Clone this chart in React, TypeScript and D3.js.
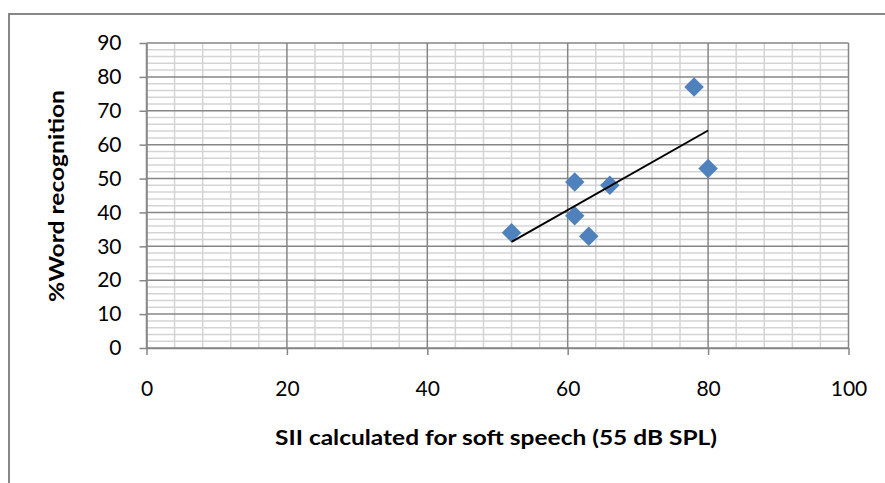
import React, { useRef, useEffect } from 'react';
import * as d3 from 'd3';

// SII (x) vs %Word recognition (y)
const siiValues = [52, 61, 61, 63, 66, 78, 80];
const wordRecognition = [34, 49, 39, 33, 48, 77, 53];
const xTicks = [0, 20, 40, 60, 80, 100];
const yTicks = [0, 10, 20, 30, 40, 50, 60, 70, 80, 90];

const xTitle = 'SII calculated for soft speech (55 dB SPL)';
const yTitle = '%Word recognition';

const W = 885;
const H = 483;
const FONT = 'Lato, "Open Sans", sans-serif';

const App: React.FC = () => {
  const svgRef = useRef<SVGSVGElement | null>(null);

  useEffect(() => {
    if (!svgRef.current) return;
    const svg = d3.select(svgRef.current);
    svg.selectAll('*').remove();

    const x = d3.scaleLinear().domain([0, 100]).range([146.5, 848.5]);
    const y = d3.scaleLinear().domain([0, 90]).range([348, 43]);

    // outer chart border
    svg.append('rect')
      .attr('x', 9).attr('y', 14)
      .attr('width', W).attr('height', H)
      .attr('fill', 'none')
      .attr('stroke', '#878787')
      .attr('stroke-width', 2);

    const grid = svg.append('g');

    // minor grid
    const minorX = d3.range(0, 101, 4).filter((v) => v % 20 !== 0);
    const minorY = d3.range(0, 91, 2).filter((v) => v % 10 !== 0);
    grid.selectAll('line.mx').data(minorX).enter().append('line')
      .attr('x1', (d) => x(d)).attr('x2', (d) => x(d))
      .attr('y1', y(0)).attr('y2', y(90))
      .attr('stroke', '#d4d4d4').attr('stroke-width', 1.5);
    grid.selectAll('line.my').data(minorY).enter().append('line')
      .attr('x1', x(0)).attr('x2', x(100))
      .attr('y1', (d) => y(d)).attr('y2', (d) => y(d))
      .attr('stroke', '#d4d4d4').attr('stroke-width', 1.5);

    // major grid
    grid.selectAll('line.Mx').data(xTicks).enter().append('line')
      .attr('x1', (d) => x(d)).attr('x2', (d) => x(d))
      .attr('y1', y(0)).attr('y2', y(90))
      .attr('stroke', '#868686').attr('stroke-width', 1.5);
    grid.selectAll('line.My').data(yTicks).enter().append('line')
      .attr('x1', x(0)).attr('x2', x(100))
      .attr('y1', (d) => y(d)).attr('y2', (d) => y(d))
      .attr('stroke', '#868686').attr('stroke-width', 1.5);

    // axes
    const xAxis = svg.append('g').attr('transform', `translate(0,${y(0)})`)
      .call(d3.axisBottom(x).tickValues(xTicks).tickSize(7).tickPadding(26).tickSizeOuter(0));
    const yAxis = svg.append('g').attr('transform', `translate(${x(0)},0)`)
      .call(d3.axisLeft(y).tickValues(yTicks).tickSize(7).tickPadding(18).tickSizeOuter(0));
    [xAxis, yAxis].forEach((a) => {
      a.select('.domain').attr('stroke', '#868686').attr('stroke-width', 1.5);
      a.selectAll('.tick line').attr('stroke', '#868686').attr('stroke-width', 1.5);
      a.selectAll('.tick text')
        .attr('fill', '#000')
        .style('font-family', FONT)
        .style('font-size', '21px');
    });

    // trendline (least squares)
    const mx = d3.mean(siiValues) as number;
    const my = d3.mean(wordRecognition) as number;
    const sxy = d3.sum(siiValues, (v, i) => (v - mx) * (wordRecognition[i] - my));
    const sxx = d3.sum(siiValues, (v) => (v - mx) * (v - mx));
    const slope = sxy / sxx;
    const icpt = my - slope * mx;
    const [x0, x1] = d3.extent(siiValues) as [number, number];

    // points
    const diamond = d3.symbol().type(d3.symbolSquare).size(190);
    svg.append('g').selectAll('path').data(siiValues).enter().append('path')
      .attr('d', diamond)
      .attr('transform', (d, i) => `translate(${x(d)},${y(wordRecognition[i])}) rotate(45)`)
      .attr('fill', '#4f81bd');

    svg.append('line')
      .attr('x1', x(x0)).attr('y1', y(slope * x0 + icpt))
      .attr('x2', x(x1)).attr('y2', y(slope * x1 + icpt))
      .attr('stroke', '#000').attr('stroke-width', 2);

    // titles
    svg.append('text')
      .attr('x', 496).attr('y', 445)
      .attr('text-anchor', 'middle')
      .attr('textLength', 442)
      .attr('lengthAdjust', 'spacingAndGlyphs')
      .style('font-family', FONT)
      .style('font-size', '21px')
      .style('font-weight', 'bold')
      .text(xTitle);

    svg.append('text')
      .attr('transform', `translate(64,196) rotate(-90)`)
      .attr('text-anchor', 'middle')
      .attr('textLength', 212)
      .attr('lengthAdjust', 'spacingAndGlyphs')
      .style('font-family', FONT)
      .style('font-size', '21px')
      .style('font-weight', 'bold')
      .text(yTitle);
  }, []);

  return (
    <svg ref={svgRef} width={W} height={H}
      style={{ position: 'absolute', left: 0, top: 0, background: '#fff' }} />
  );
};

export default App;
